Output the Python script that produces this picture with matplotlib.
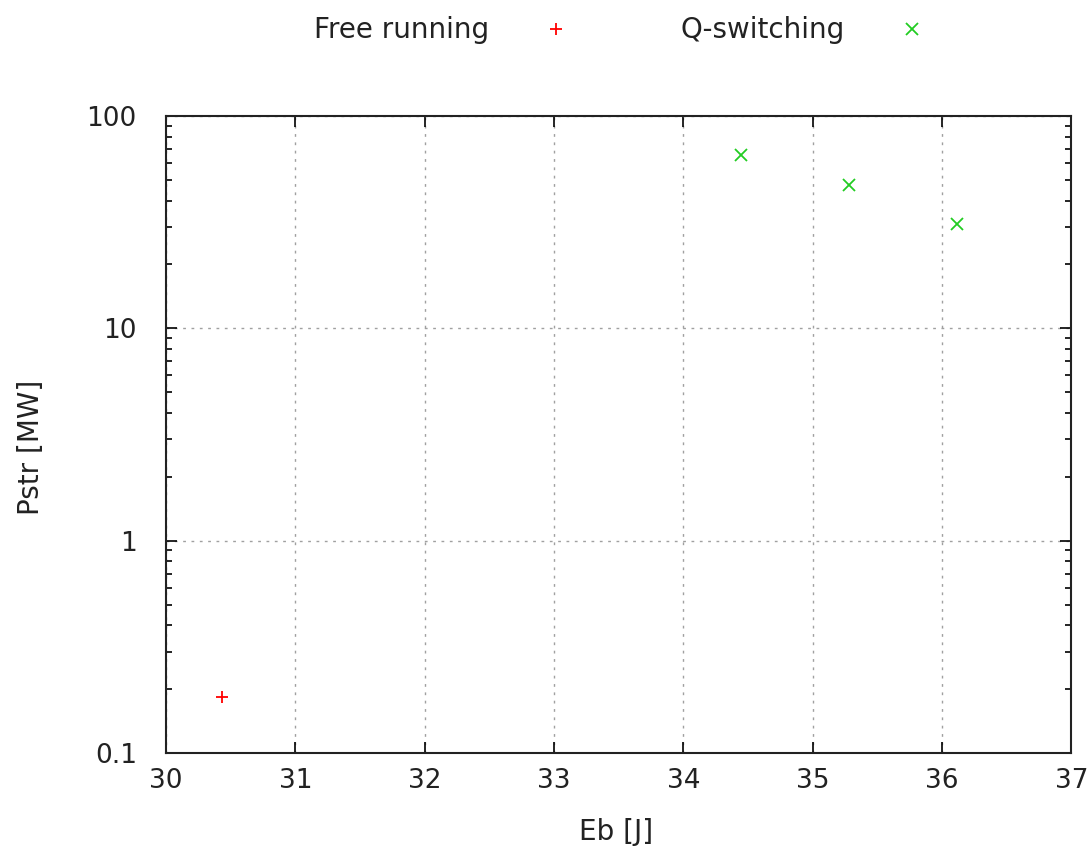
import matplotlib
matplotlib.use("Agg")
import matplotlib.pyplot as plt

# data
free_eb = [30.43]
free_pstr = [0.184]
qs_eb = [34.45, 35.28, 36.12]
qs_pstr = [65.5, 47.3, 31.0]

plt.rcParams["font.family"] = "DejaVu Sans"
plt.rcParams["font.size"] = 20

fig = plt.figure(figsize=(10.92, 8.55), dpi=100)
ax = fig.add_axes([0.152, 0.1193, 0.829, 0.745])

ax.plot(free_eb, free_pstr, linestyle="none", marker="+", markersize=9,
        markeredgewidth=1.3, color="#ff0000", label="Free running")
ax.plot(qs_eb, qs_pstr, linestyle="none", marker="x", markersize=8.5,
        markeredgewidth=1.3, color="#22cc22", label="Q-switching")

ax.set_yscale("log")
ax.set_xlim(30, 37)
ax.set_ylim(0.1, 100)
ax.set_xticks(range(30, 38))
ax.set_yticks([0.1, 1, 10, 100])
ax.set_yticklabels(["0.1", "1", "10", "100"])

ax.grid(True, which="major", linestyle=(0, (2, 4)), color="#a0a0a0", linewidth=1)
ax.tick_params(which="both", direction="in", top=True, right=True, width=1.2,
               labelsize=19, labelcolor="#222222")
ax.tick_params(which="major", length=8)
ax.tick_params(which="minor", length=4)
ax.tick_params(axis="y", which="major", pad=21)
ax.tick_params(axis="x", which="major", pad=11)
for s in ax.spines.values():
    s.set_linewidth(1.5)
    s.set_color("#222222")

ax.set_xlabel("Eb [J]", color="#222222")
ax.set_ylabel("Pstr [MW]", color="#222222")
ax.xaxis.set_label_coords(0.497, -0.102)
ax.yaxis.set_label_coords(-0.1337, 0.4804)

fig.legend(loc="upper center", bbox_to_anchor=(0.5737, 1.01), ncol=2,
           frameon=False, markerfirst=False, handlelength=2.0,
           handletextpad=1.41, columnspacing=3.49, labelcolor="#222222")

fig.savefig("out.png", dpi=100)
